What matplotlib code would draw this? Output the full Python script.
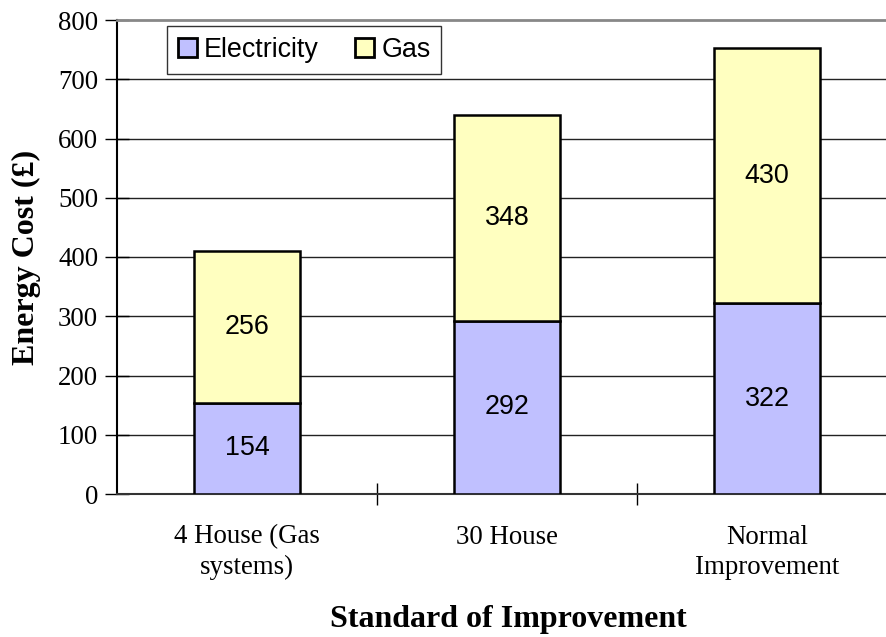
import matplotlib.pyplot as plt
from matplotlib.ticker import FixedLocator
import numpy as np

categories = ["4 House (Gas\nsystems)", "30 House", "Normal\nImprovement"]
electricity = [154, 292, 322]
gas = [256, 348, 430]
series_names = ["Electricity", "Gas"]
y_ticks = [0, 100, 200, 300, 400, 500, 600, 700, 800]

elec_color = "#C0C0FF"
gas_color = "#FFFFC0"
fs = 19.4

fig = plt.figure(figsize=(8.87, 6.37), dpi=100)
ax = fig.add_axes([117 / 887, 1 - 494 / 637, 780 / 887, 474 / 637])

x = np.arange(len(categories))
width = 0.405
b1 = ax.bar(x, electricity, width, color=elec_color, edgecolor="black", linewidth=1.8,
            label=series_names[0], zorder=3)
b2 = ax.bar(x, gas, width, bottom=electricity, color=gas_color, edgecolor="black",
            linewidth=1.8, label=series_names[1], zorder=3)

for bars, vals, base in ((b1, electricity, [0, 0, 0]), (b2, gas, electricity)):
    for rect, v, b in zip(bars, vals, base):
        ax.text(rect.get_x() + rect.get_width() / 2, b + v / 2, str(v),
                ha="center", va="center", fontsize=fs, family="Liberation Sans", zorder=4)

ax.set_xlim(-0.5, 2.5)
ax.set_ylim(0, 800)
ax.set_yticks(y_ticks)
ax.set_yticklabels([str(t) for t in y_ticks], family="Liberation Serif", fontsize=fs)
for t in y_ticks[1:-1]:
    ax.axhline(t, color="#222222", linewidth=1.0, zorder=1)

ax.set_xticks(x)
ax.set_xticklabels(categories, family="Liberation Serif", fontsize=fs, linespacing=1.3)
ax.tick_params(axis="x", which="major", length=0, pad=22)
ax.xaxis.set_minor_locator(FixedLocator([0.5, 1.5]))
ax.tick_params(axis="x", which="minor", direction="inout", length=16, width=1.0, color="black")
ax.tick_params(axis="y", direction="inout", length=17, width=1.0, pad=5, color="black")

ax.spines["right"].set_visible(False)
ax.spines["top"].set_color("#888888")
ax.spines["top"].set_linewidth(2.0)
ax.spines["left"].set_linewidth(1.5)
ax.spines["bottom"].set_linewidth(1.5)
ax.spines["bottom"].set_color("#333333")

fig.text(26 / 887, 1 - 257 / 637, "Energy Cost (£)", family="Liberation Serif",
         fontweight="bold", fontsize=23, rotation=90, ha="center", va="center")
fig.text(508 / 887, 1 - 620 / 637, "Standard of Improvement", family="Liberation Serif",
         fontweight="bold", fontsize=23, ha="center", va="center")

leg = ax.legend(loc="upper left", bbox_to_anchor=(0.064, 0.987), ncol=2,
                prop={"family": "Liberation Sans", "size": fs}, frameon=True, fancybox=False,
                handlelength=0.72, handleheight=0.72, handletextpad=0.25, columnspacing=1.35,
                borderpad=0.4, borderaxespad=0)
leg.get_frame().set_edgecolor("black")
leg.get_frame().set_linewidth(1.0)
for h in leg.legend_handles:
    h.set_linewidth(2.0)

fig.savefig("out.png", dpi=100)
